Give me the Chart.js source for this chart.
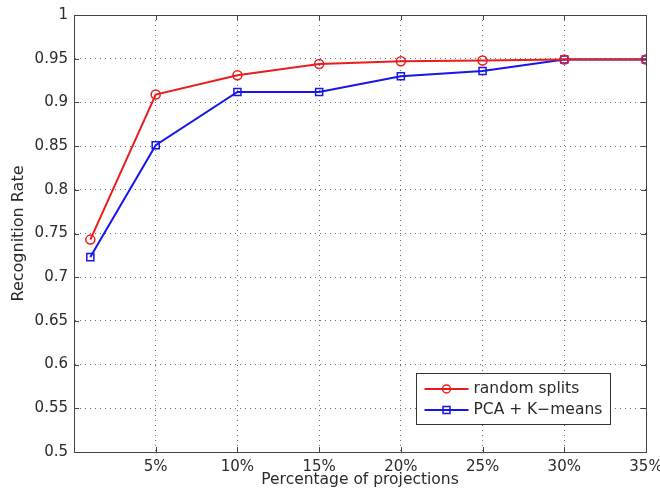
<!DOCTYPE html>
<html>
<head>
<meta charset="utf-8">
<script src="https://cdn.jsdelivr.net/npm/chart.js@4"></script>
<style>
  html, body { margin: 0; padding: 0; background: #fff; }
  #wrap { position: relative; width: 660px; height: 496px; }
</style>
</head>
<body>
<div id="wrap"><canvas id="c" width="660" height="496"></canvas></div>
<script>
// ---- data ----
const xValues = [1, 5, 10, 15, 20, 25, 30, 35];
const randomSplits = [0.743, 0.909, 0.931, 0.944, 0.947, 0.948, 0.949, 0.949];
const pcaKMeans   = [0.723, 0.851, 0.912, 0.912, 0.930, 0.936, 0.949, 0.949];
const seriesLabels = ['random splits', 'PCA + K\u2212means'];
const xTickValues = [5, 10, 15, 20, 25, 30, 35];
const xTickLabels = ['5%', '10%', '15%', '20%', '25%', '30%', '35%'];
const yTickValues = [0.5, 0.55, 0.6, 0.65, 0.7, 0.75, 0.8, 0.85, 0.9, 0.95, 1];
const yTickLabels = ['0.5', '0.55', '0.6', '0.65', '0.7', '0.75', '0.8', '0.85', '0.9', '0.95', '1'];
const xTitle = 'Percentage of projections';
const yTitle = 'Recognition Rate';

const RED = 'rgb(235,28,28)';
const BLUE = 'rgb(22,22,235)';
const FONT = '"DejaVu Sans", Verdana, sans-serif';
const TXT = '#2a2a2a';

const boxPlugin = {
  id: 'boxPlugin',
  afterDraw(chart) {
    const ctx = chart.ctx;
    const a = chart.chartArea;
    const xs = chart.scales.x, ys = chart.scales.y;
    ctx.save();
    ctx.strokeStyle = '#444';
    ctx.lineWidth = 1;
    ctx.beginPath();
    xTickValues.forEach(v => {
      const px = Math.round(xs.getPixelForValue(v)) + 0.5;
      ctx.moveTo(px, a.bottom); ctx.lineTo(px, a.bottom - 5);
      ctx.moveTo(px, a.top); ctx.lineTo(px, a.top + 5);
    });
    yTickValues.forEach(v => {
      const py = Math.round(ys.getPixelForValue(v)) + 0.5;
      ctx.moveTo(a.left, py); ctx.lineTo(a.left + 5, py);
      ctx.moveTo(a.right, py); ctx.lineTo(a.right - 5, py);
    });
    ctx.stroke();
    ctx.strokeRect(Math.round(a.left) + 0.5, Math.round(a.top) + 0.5,
                   Math.round(a.right - a.left), Math.round(a.bottom - a.top));

    // legend box
    const lx = 416.5, ly = 373.5, lw = 194, lh = 51;
    ctx.fillStyle = '#fff';
    ctx.fillRect(lx, ly, lw, lh);
    ctx.strokeStyle = '#333';
    ctx.strokeRect(lx, ly, lw, lh);
    const rows = [ly + 15.5, ly + 36.5];
    chart.data.datasets.forEach((ds, i) => {
      const y = rows[i];
      ctx.strokeStyle = ds.borderColor;
      ctx.lineWidth = 2;
      ctx.beginPath();
      ctx.moveTo(lx + 8, y); ctx.lineTo(lx + 52, y);
      ctx.stroke();
      ctx.lineWidth = 1.5;
      if (ds.pointStyle === 'circle') {
        ctx.beginPath(); ctx.arc(lx + 30, y, 4, 0, Math.PI * 2); ctx.stroke();
      } else {
        ctx.strokeRect(lx + 26.5, y - 3.5, 7, 7);
      }
      ctx.fillStyle = TXT;
      ctx.font = '15.5px ' + FONT;
      ctx.textBaseline = 'middle';
      ctx.textAlign = 'left';
      ctx.fillText(ds.label, lx + 57, y);
    });
    ctx.restore();
  }
};

new Chart(document.getElementById('c'), {
  type: 'line',
  data: {
    datasets: [
      {
        label: seriesLabels[0],
        data: xValues.map((x, i) => ({ x, y: randomSplits[i] })),
        borderColor: RED, backgroundColor: RED,
        borderWidth: 2, pointStyle: 'circle', pointRadius: 4.5,
        pointBorderWidth: 1.5, pointBorderColor: RED,
        pointBackgroundColor: 'rgba(255,255,255,0)', tension: 0
      },
      {
        label: seriesLabels[1],
        data: xValues.map((x, i) => ({ x, y: pcaKMeans[i] })),
        borderColor: BLUE, backgroundColor: BLUE,
        borderWidth: 2, pointStyle: 'rect', pointRadius: 5,
        pointBorderWidth: 1.5, pointBorderColor: BLUE,
        pointBackgroundColor: 'rgba(255,255,255,0)', tension: 0
      }
    ]
  },
  options: {
    responsive: false,
    animation: false,
    layout: { padding: { left: 0, right: 14, top: 15, bottom: 0 } },
    plugins: { legend: { display: false }, tooltip: { enabled: false } },
    scales: {
      x: {
        type: 'linear', min: 0, max: 35,
        afterBuildTicks: s => { s.ticks = xTickValues.map(v => ({ value: v })); },
        afterFit: s => { s.height = 44; s.paddingLeft = 0; s.paddingRight = 0; },
        ticks: {
          autoSkip: false, maxRotation: 0, padding: 6,
          color: TXT, font: { family: FONT, size: 15 },
          callback: v => { const i = xTickValues.indexOf(v); return i >= 0 ? xTickLabels[i] : ''; }
        },
        grid: { color: 'rgba(60,60,60,0.75)', lineWidth: 1, drawTicks: false },
        border: { display: true, color: '#444', dash: [1, 4] },
        title: { display: true, text: xTitle, color: TXT, font: { family: FONT, size: 15.5 }, padding: { top: 0, bottom: 6.5 } }
      },
      y: {
        type: 'linear', min: 0.5, max: 1,
        afterBuildTicks: s => { s.ticks = yTickValues.map(v => ({ value: v })); },
        afterFit: s => { s.width = 74; s.paddingTop = 0; s.paddingBottom = 0; },
        ticks: {
          autoSkip: false, padding: 6,
          color: TXT, font: { family: FONT, size: 15 },
          callback: v => { const i = yTickValues.findIndex(t => Math.abs(t - v) < 1e-9); return i >= 0 ? yTickLabels[i] : ''; }
        },
        grid: { color: 'rgba(60,60,60,0.75)', lineWidth: 1, drawTicks: false },
        border: { display: true, color: '#444', dash: [1, 4] },
        title: { display: true, text: yTitle, color: TXT, font: { family: FONT, size: 16 }, padding: { top: 9, bottom: 0 } }
      }
    }
  },
  plugins: [boxPlugin]
});
</script>
</body>
</html>
